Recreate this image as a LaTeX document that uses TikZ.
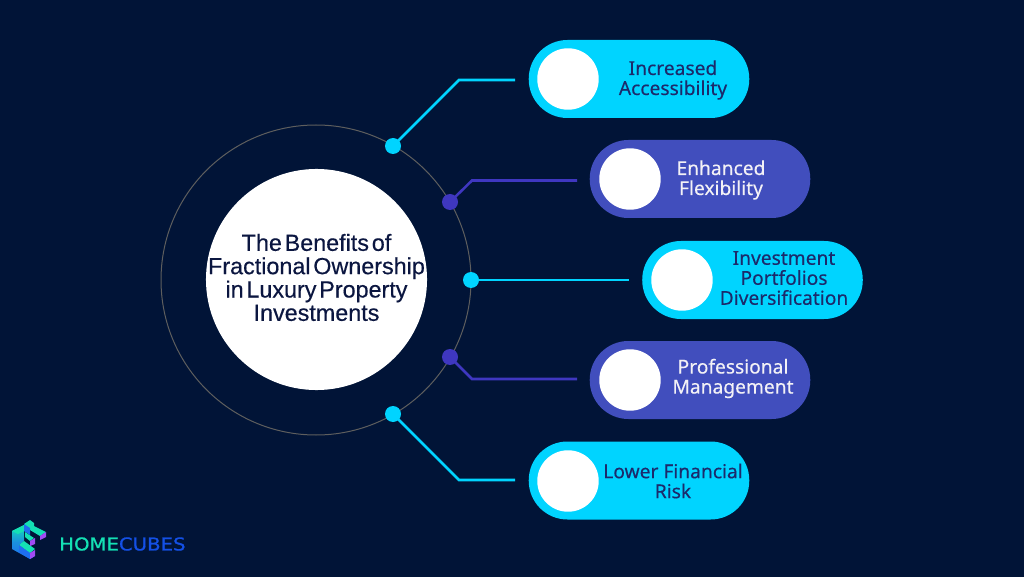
\documentclass[tikz,border=0pt]{standalone}
\usepackage{fontspec}
\setmainfont[FakeBold=0.35]{Liberation Sans}
\newfontfamily\pillfont[FakeBold=0.25]{Noto Sans}
\newfontfamily\logofont[FakeBold=0.8]{DejaVu Sans}
\newcommand{\tightwords}{\spaceskip 0.12em\relax}
\definecolor{bgc}{HTML}{011437}
\definecolor{cyanc}{HTML}{00D4FF}
\definecolor{pillp}{HTML}{414EBD}
\definecolor{dotp}{HTML}{3F37C0}
\definecolor{ringc}{HTML}{5E5E5E}
\definecolor{darktxt}{HTML}{1C2A6B}
\definecolor{lighttxt}{HTML}{F3F1F6}
\definecolor{titlec}{HTML}{0B1640}
\definecolor{logog}{HTML}{14E0B4}
\definecolor{logob}{HTML}{1450E6}
\definecolor{logop}{HTML}{A24BF5}
\definecolor{logod}{HTML}{1E6EF0}
\tikzset{
  pill/.style={rounded corners=29pt,minimum width=165.4pt,minimum height=58.5pt,inner sep=0pt,anchor=center},
  cyanpill/.style={pill,fill=cyanc},
  purppill/.style={pill,fill=pillp},
  disc/.style={circle,fill=white,minimum size=46.1pt,inner sep=0pt},
  dot/.style={circle,minimum size=12pt,inner sep=0pt},
  cyanlink/.style={draw=cyanc,line width=1.9pt,line join=miter},
  purplink/.style={draw=dotp,line width=1.9pt,line join=miter},
  pilltext/.style={align=center,font=\pillfont\fontsize{14.4}{15}\selectfont},
}
\begin{document}
\begin{tikzpicture}[x=0.75pt,y=-0.75pt]
\useasboundingbox (0,0) rectangle (1024,577);
\fill[bgc] (0,0) rectangle (1024,577);

\node[circle,draw=ringc,line width=0.75pt,minimum size=232.5pt,inner sep=0pt] (ring) at (316,280) {};
\node[circle,fill=white,minimum size=165.8pt,inner sep=0pt] (hub) at (316.5,279.5) {};
\node[inner sep=0pt,align=center,text=titlec,font=\fontsize{17.5}{17.5}\selectfont\tightwords] (hubtext) at (316.5,277.5)
  {The Benefits of\\Fractional Ownership\\in Luxury Property\\Investments};

\node[dot,fill=cyanc] (d1) at (393,146) {};
\node[dot,fill=dotp] (d2) at (450,202) {};
\node[dot,fill=cyanc] (d3) at (471,280) {};
\node[dot,fill=dotp] (d4) at (450,357) {};
\node[dot,fill=cyanc] (d5) at (393,414) {};

\coordinate (e1) at (515,80);
\coordinate (e2) at (577,180.5);
\coordinate (e3) at (629,280);
\coordinate (e4) at (577,379);
\coordinate (e5) at (515,480);
\coordinate (k1) at (459,80);
\coordinate (k2) at (472,180.5);
\coordinate (k4) at (472,379);
\coordinate (k5) at (459,480);

\draw[cyanlink] (d1.center) -- (k1) -- (e1);
\draw[purplink] (d2.center) -- (k2) -- (e2);
\draw[cyanlink] (d3.center) -- (e3);
\draw[purplink] (d4.center) -- (k4) -- (e4);
\draw[cyanlink] (d5.center) -- (k5) -- (e5);

\node[cyanpill] (p1) at (639,79) {};
\node[purppill] (p2) at (700,179) {};
\node[cyanpill] (p3) at (752.5,280) {};
\node[purppill] (p4) at (700,380) {};
\node[cyanpill] (p5) at (639,480.5) {};

\node[disc] (c1) at (568,79) {};
\node[disc] (c2) at (630,179) {};
\node[disc] (c3) at (682,280) {};
\node[disc] (c4) at (630,380) {};
\node[disc] (c5) at (568,481) {};

\node[pilltext,text=darktxt] (t1) at (673,80) {Increased\\Accessibility};
\node[pilltext,text=lighttxt] (t2) at (721,180) {Enhanced\\Flexibility};
\node[pilltext,text=darktxt] (t3) at (784,278) {Investment\\Portfolios\\Diversification};
\node[pilltext,text=lighttxt] (t4) at (733,378.5) {Professional\\Management};
\node[pilltext,text=darktxt] (t5) at (673,481) {Lower Financial\\Risk};

% logo
\shade[top color=logog,bottom color=logod,middle color=logod!70!logog] (12,531) -- (24,525) -- (24,541) -- (19,545) -- (35,556) -- (30,559) -- (12,549) -- cycle;
\fill[logog] (12,531) -- (24,525) -- (30,528) -- (18,534) -- cycle;
\fill[logog] (24,541) -- (35,549) -- (30,553) -- (19,545) -- cycle;
\fill[logod] (19,545) -- (30,553) -- (30,559) -- (19,552) -- cycle;
\fill[logop] (30,553) -- (35,550) -- (35,556) -- (30,559) -- cycle;
\fill[logog] (24,524) -- (30,520) -- (34,523) -- (34,526) -- (40,529) -- (46,532) -- (40,536) -- (30,530) -- cycle;
\fill[logod] (24,524) -- (30,528) -- (30,535) -- (24,531) -- cycle;
\fill[logop] (40,536) -- (46,532) -- (46,537) -- (40,540) -- cycle;
\fill[logog] (25,532) -- (34,538) -- (30,541) -- (25,537) -- cycle;
\fill[logop] (30,541) -- (35,538) -- (35,544) -- (30,546) -- cycle;

\node[inner sep=0pt,anchor=west,font=\logofont\fontsize{13.3}{14}\selectfont] (logo) at (59,544) {\scalebox{1.11}[1]{\textcolor{logog}{HOME}\textcolor{logob}{CUBES}}};
\end{tikzpicture}
\end{document}
